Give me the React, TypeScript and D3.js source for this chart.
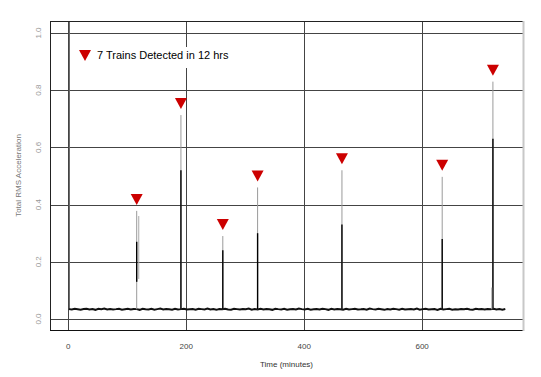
import React from "react";
import * as d3 from "d3";

// ---- data ----
const xTicks = [0, 200, 400, 600];
const yTicks = [0.0, 0.2, 0.4, 0.6, 0.8, 1.0];
const legendLabel = "7 Trains Detected in 12 hrs";
const xTitle = "Time (minutes)";
const yTitle = "Total RMS Acceleration";

// baseline RMS (sampled every 5 minutes from t = 1)
const baselineStart = 1;
const baselineStep = 5;
const baselineValues = [
  0.0345, 0.033, 0.0355, 0.034, 0.0325, 0.035, 0.036, 0.0335, 0.0345, 0.032, 0.0355, 0.034, 0.0365, 0.033, 0.035, 0.0335, 0.0345, 0.036, 0.0325, 0.034,
  0.0355, 0.033, 0.035, 0.0345, 0.032, 0.036, 0.034, 0.0335, 0.0355, 0.0325, 0.0345, 0.0365, 0.033, 0.035, 0.034, 0.0325, 0.0355, 0.0335, 0.0345, 0.036,
  0.033, 0.034, 0.035, 0.0325, 0.0355, 0.0345, 0.0335, 0.0365, 0.033, 0.0345, 0.032, 0.035, 0.034, 0.036, 0.0335, 0.0325, 0.0355, 0.0345, 0.033, 0.035,
  0.034, 0.0365, 0.0325, 0.0345, 0.0335, 0.0355, 0.033, 0.035, 0.034, 0.032, 0.036, 0.0345, 0.0335, 0.0355, 0.0325, 0.034, 0.035, 0.033, 0.0365, 0.0345,
  0.0335, 0.0355, 0.0325, 0.034, 0.035, 0.033, 0.036, 0.0345, 0.032, 0.0355, 0.0335, 0.035, 0.034, 0.0325, 0.036, 0.033, 0.0345, 0.0355, 0.0335, 0.034,
  0.035, 0.0325, 0.0365, 0.0345, 0.033, 0.0355, 0.034, 0.032, 0.035, 0.0335, 0.036, 0.0345, 0.0325, 0.0355, 0.033, 0.034, 0.035, 0.0335, 0.0365, 0.0325,
  0.0345, 0.0355, 0.033, 0.034, 0.035, 0.032, 0.036, 0.0335, 0.0345, 0.0355, 0.0325, 0.034, 0.033, 0.035, 0.0345, 0.036, 0.0335, 0.0325, 0.0355, 0.034,
  0.0345, 0.033, 0.035, 0.034, 0.0355, 0.0335, 0.0345, 0.0325, 0.035,
];

// start-up transient
const startTime = 2;
const startPeak = 1.2;

// detected trains
const trainTimes = [116, 191, 262, 321, 464, 634, 720];
const trainPeaks = [0.378, 0.713, 0.29, 0.46, 0.52, 0.497, 0.83];
const trainDenseTop = [0.27, 0.52, 0.24, 0.30, 0.33, 0.28, 0.63];
const trainDenseBottom = [0.13, 0.034, 0.034, 0.034, 0.034, 0.034, 0.034];

// secondary traces
const echoTimes = [119.5, 718];
const echoLow = [0.14, 0.034];
const echoHigh = [0.36, 0.11];

export default function App() {
  const W = 541;
  const H = 377;
  const L = 50, R = 523, T = 21, B = 330;

  const x = d3.scaleLinear().domain([-31, 771]).range([L, R]);
  const y = d3.scaleLinear().domain([-0.0385, 1.042]).range([B, T]);

  const basePts: [number, number][] = baselineValues.map((v, i) => [
    baselineStart + i * baselineStep,
    v,
  ]);
  const line = d3
    .line<[number, number]>()
    .x((d) => x(d[0]))
    .y((d) => y(d[1]));

  const font = "'Liberation Sans', Arial, Helvetica, sans-serif";
  const gridColor = "#444";

  return (
    <svg
      width={W}
      height={H}
      viewBox={`0 0 ${W} ${H}`}
      style={{ position: "absolute", left: 0, top: 0, background: "#fff" }}
    >
      <defs>
        <clipPath id="plotClip">
          <rect x={L} y={T} width={R - L} height={B - T} />
        </clipPath>
      </defs>
      <rect x={0} y={0} width={W} height={H} fill="#fff" />

      {/* grid */}
      {yTicks.map((t) => (
        <line
          key={"gy" + t}
          x1={L}
          x2={R}
          y1={Math.round(y(t)) + 0.5}
          y2={Math.round(y(t)) + 0.5}
          stroke={gridColor}
          strokeWidth={1}
        />
      ))}
      {xTicks.map((t) => (
        <line
          key={"gx" + t}
          x1={Math.round(x(t)) + 0.5}
          x2={Math.round(x(t)) + 0.5}
          y1={T}
          y2={B}
          stroke={gridColor}
          strokeWidth={1}
        />
      ))}

      {/* legend box */}
      <rect x={72} y={47} width={168} height={21} fill="#fff" />
      <path d="M79,50 L91,50 L85,61 Z" fill="#CC0000" />
      <text x={97} y={59} fontFamily={font} fontSize={11} fill="#000">
        {legendLabel}
      </text>

      <g clipPath="url(#plotClip)">
        {/* start-up transient */}
        <line
          x1={x(startTime)}
          x2={x(startTime)}
          y1={y(baselineValues[0])}
          y2={y(startPeak)}
          stroke="#666"
          strokeWidth={1}
        />
        {/* baseline noise */}
        <path d={line(basePts) || ""} fill="none" stroke="#111" strokeWidth={2} />

        {/* train spikes */}
        {trainTimes.map((t, i) => (
          <g key={"tr" + i}>
            <line
              x1={x(t)}
              x2={x(t)}
              y1={y(0.034)}
              y2={y(trainPeaks[i])}
              stroke="#9a9a9a"
              strokeWidth={1}
            />
            <line
              x1={x(t)}
              x2={x(t)}
              y1={y(trainDenseBottom[i])}
              y2={y(trainDenseTop[i])}
              stroke="#000"
              strokeWidth={1.4}
            />
          </g>
        ))}
        {echoTimes.map((t, i) => (
          <line
            key={"ec" + i}
            x1={x(t)}
            x2={x(t)}
            y1={y(echoLow[i])}
            y2={y(echoHigh[i])}
            stroke="#aaa"
            strokeWidth={1}
          />
        ))}
      </g>

      {/* markers */}
      {trainTimes.map((t, i) => {
        const cx = x(t);
        const tip = y(trainPeaks[i]) - 6;
        return (
          <path
            key={"mk" + i}
            d={`M${cx - 6},${tip - 11} L${cx + 6},${tip - 11} L${cx},${tip} Z`}
            fill="#CC0000"
          />
        );
      })}

      {/* frame */}
      <line x1={L} x2={R} y1={T + 0.5} y2={T + 0.5} stroke="#222" />
      <line x1={L + 0.5} x2={L + 0.5} y1={T} y2={B} stroke="#222" />
      <line x1={L} x2={R} y1={B + 0.5} y2={B + 0.5} stroke="#111" />
      <line x1={R + 0.5} x2={R + 0.5} y1={T} y2={B + 1} stroke="#c8c8c8" strokeWidth={2} />

      {/* x tick labels */}
      {xTicks.map((t) => (
        <text
          key={"xl" + t}
          x={x(t)}
          y={349}
          textAnchor="middle"
          fontFamily={font}
          fontSize={8}
          fill="#444"
        >
          {t}
        </text>
      ))}
      <text
        x={(L + R) / 2}
        y={367}
        textAnchor="middle"
        fontFamily={font}
        fontSize={8}
        fill="#333"
      >
        {xTitle}
      </text>

      {/* y tick labels */}
      {yTicks.map((t) => (
        <text
          key={"yl" + t}
          transform={`translate(41,${y(t)}) rotate(-90)`}
          textAnchor="middle"
          fontFamily={font}
          fontSize={8}
          fill="#999"
        >
          {t.toFixed(1)}
        </text>
      ))}
      <text
        transform={`translate(21,${(T + B) / 2}) rotate(-90)`}
        textAnchor="middle"
        fontFamily={font}
        fontSize={8}
        fill="#777"
      >
        {yTitle}
      </text>
    </svg>
  );
}
